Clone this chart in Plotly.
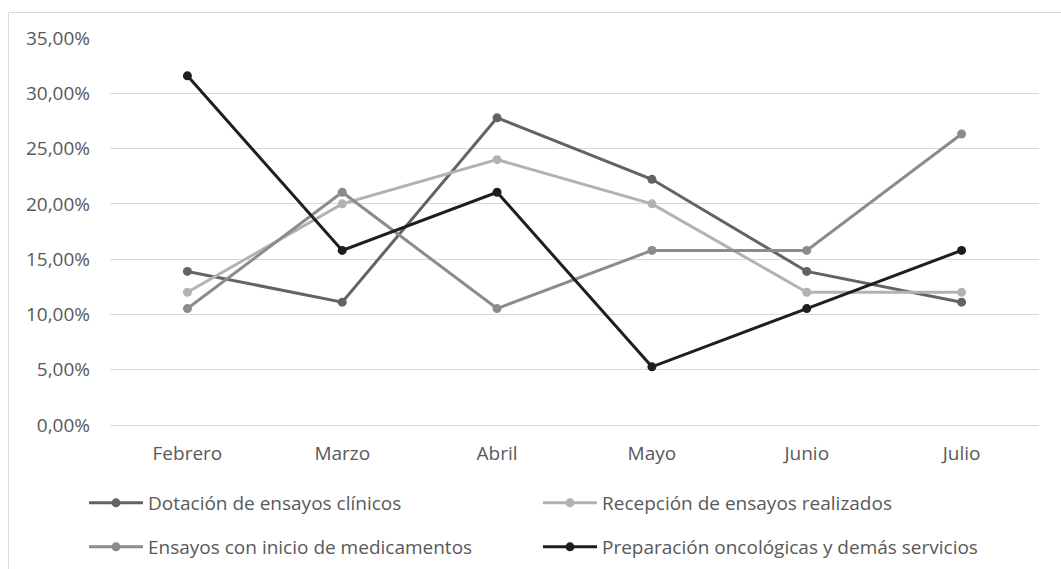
import plotly.graph_objects as go

# Monthly share per service line (percent)
meses = ["Febrero", "Marzo", "Abril", "Mayo", "Junio", "Julio"]

dotacion = [13.89, 11.11, 27.78, 22.22, 13.89, 11.11]
recepcion = [12.00, 20.00, 24.00, 20.00, 12.00, 12.00]
ensayos_inicio = [10.53, 21.05, 10.53, 15.79, 15.79, 26.32]
preparacion = [31.58, 15.79, 21.05, 5.26, 10.53, 15.79]

series = [
    ("Dotación de ensayos clínicos", dotacion, "#636363", "legend"),
    ("Recepción de ensayos realizados", recepcion, "#b2b2b2", "legend"),
    ("Ensayos con inicio de medicamentos", ensayos_inicio, "#8c8c8c", "legend2"),
    ("Preparación oncológicas y demás servicios", preparacion, "#1e1e1e", "legend2"),
]

FONT = "Open Sans, DejaVu Sans, sans-serif"
TXT = "#595959"

fig = go.Figure()
for name, vals, color, leg in series:
    fig.add_trace(go.Scatter(
        x=meses, y=vals, name=name, mode="lines+markers",
        line=dict(color=color, width=3),
        marker=dict(color=color, size=9),
        legend=leg,
    ))

W, H = 1061, 569
L, R, T, B = 110, 22, 38, 144
pw, ph = W - L - R, H - T - B

def px_x(p):
    return (p - L) / pw

def px_y(p):
    return (H - B - p) / ph

# legend rows are placed in container coordinates so they stay clear of the plot margins
legend_common = dict(
    orientation="h", xanchor="left", yanchor="middle",
    xref="container", yref="container",
    font=dict(family=FONT, size=19, color=TXT),
    entrywidth=385, entrywidthmode="pixels",
    itemwidth=54, bgcolor="rgba(0,0,0,0)",
)

fig.update_layout(
    width=W, height=H,
    margin=dict(l=L, r=R, t=T, b=B),
    paper_bgcolor="white", plot_bgcolor="white",
    separators=",.",
    font=dict(family=FONT, size=19, color=TXT),
    showlegend=True,
    legend=dict(x=84 / W, y=(H - 503) / H, **legend_common),
    legend2=dict(x=84 / W, y=(H - 547) / H, **legend_common),
    xaxis=dict(
        range=[-0.5, 5.5],
        showgrid=False, showline=False, zeroline=False,
        tickfont=dict(family=FONT, size=19, color=TXT),
        ticks="", ticklabelstandoff=15,
    ),
    yaxis=dict(
        range=[0, 35], dtick=5, tickformat=".2f", ticksuffix="%",
        showgrid=True, gridcolor="#d9d9d9", gridwidth=1,
        zeroline=True, zerolinecolor="#d9d9d9", zerolinewidth=1,
        showline=False, ticks="",
        tickfont=dict(family=FONT, size=19, color=TXT),
        ticklabelstandoff=19,
    ),
    shapes=[dict(
        type="rect", xref="paper", yref="paper",
        x0=px_x(8.5), x1=px_x(W + 30), y0=px_y(H + 30), y1=px_y(12.5),
        line=dict(color="#d9d9d9", width=1), fillcolor="rgba(0,0,0,0)",
        layer="below",
    )],
)

fig.write_html("out.html")
